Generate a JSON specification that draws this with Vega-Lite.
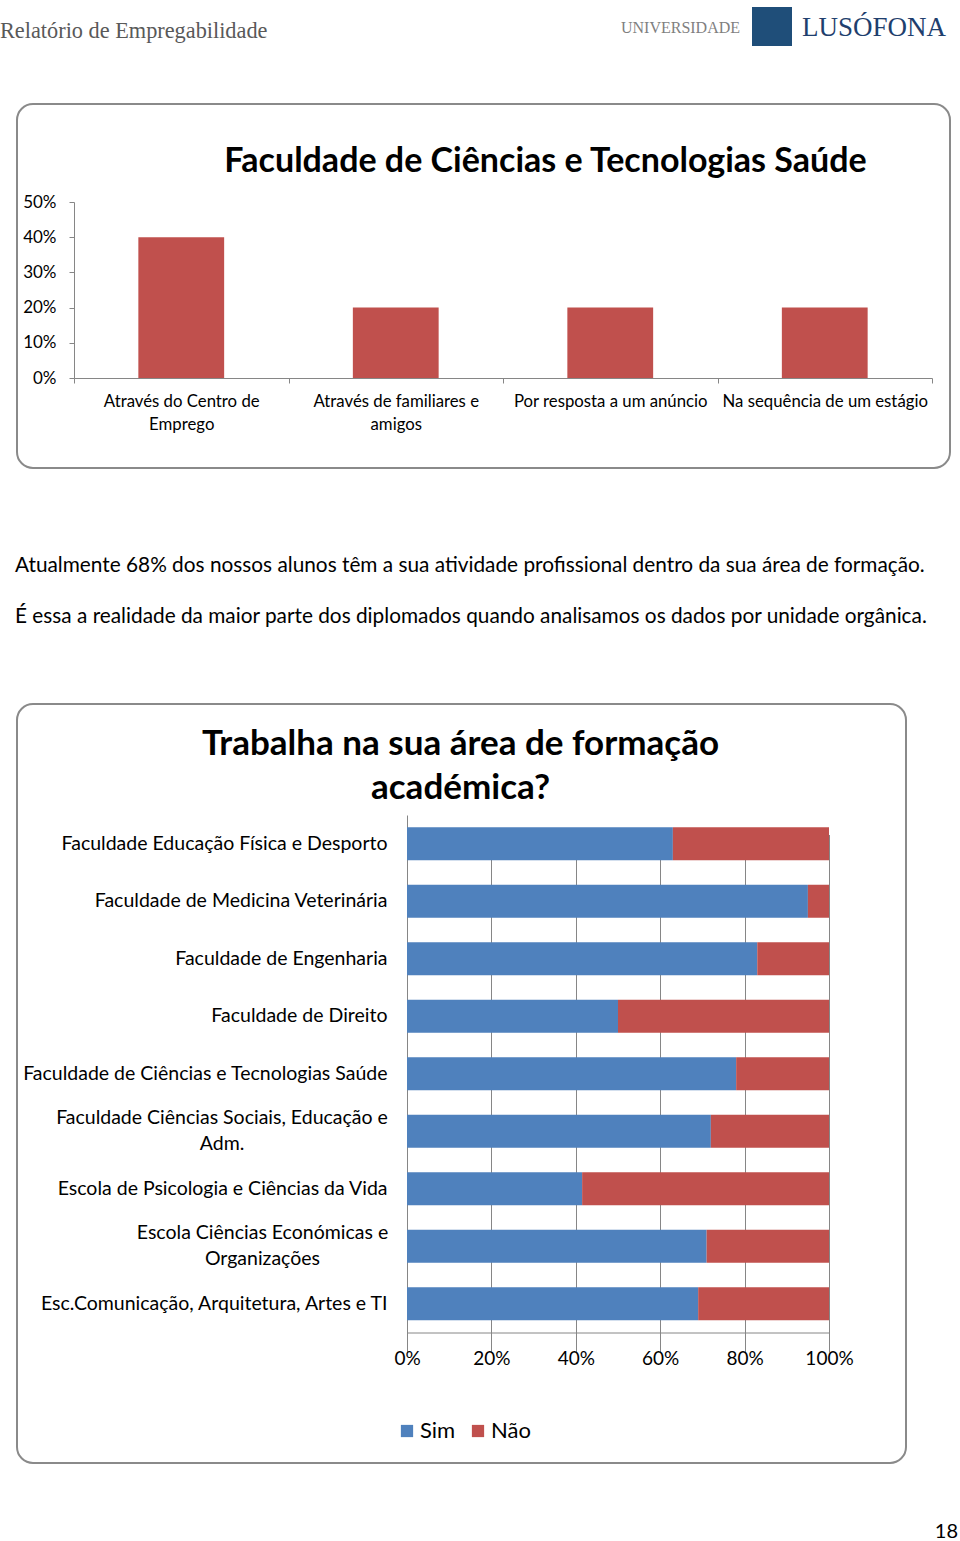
{
  "$schema": "https://vega.github.io/schema/vega-lite/v6.json",
  "background": "white",
  "padding": 0,
  "spacing": 0,
  "resolve": {"scale": {"color": "independent", "size": "independent"}},
  "config": {
    "view": {"stroke": null},
    "font": "Lato",
    "axis": {"labelFont": "Lato", "labelColor": "#000000", "domainColor": "#868686", "tickColor": "#868686", "gridColor": "#868686"}
  },
  "vconcat": [
    {
      "width": 943,
      "height": 55,
      "title": {"text": "Relatório de Empregabilidade", "anchor": "start", "frame": "group", "dx": -17, "offset": -42, "font": "Liberation Serif", "fontSize": 22.3, "fontWeight": "normal", "color": "#595959"},
      "layer": [
        {
          "data": {"values": [{"part": "logo"}]},
          "mark": {"type": "rect", "color": "#1f4e79"},
          "encoding": {
            "x": {"field": "part", "type": "nominal", "scale": {"range": [735, 775], "paddingInner": 0, "paddingOuter": 0}, "axis": null},
            "y": {"field": "part", "type": "nominal", "scale": {"range": [7, 46], "paddingInner": 0, "paddingOuter": 0}, "axis": null}
          }
        },
        {
          "data": {"values": [{"w": "UNIVERSIDADE"}, {"w": "LUSÓFONA"}]},
          "mark": {"type": "text", "font": "Liberation Serif", "baseline": "middle", "align": "center"},
          "encoding": {
            "x": {"field": "w", "type": "nominal", "sort": null, "scale": {"type": "point", "range": [663.5, 857], "padding": 0}, "axis": null},
            "text": {"field": "w"},
            "size": {"field": "w", "type": "nominal", "sort": null, "scale": {"domain": ["UNIVERSIDADE", "LUSÓFONA"], "range": [16, 27]}, "legend": null},
            "color": {"field": "w", "type": "nominal", "scale": {"domain": ["UNIVERSIDADE", "LUSÓFONA"], "range": ["#7f7f7f", "#1f3f6e"]}, "legend": null}
          }
        }
      ],
      "resolve": {"scale": {"x": "independent", "y": "independent"}}
    },
    {"width": 10, "height": 48, "data": {"values": []}, "mark": "point"},
    {
      "width": 933,
      "height": 364,
      "view": {"stroke": "#8a8a8a", "strokeWidth": 2, "cornerRadius": 16},
      "title": {"text": "Faculdade de Ciências e Tecnologias Saúde", "anchor": "middle", "frame": "group", "dx": 62, "offset": -75, "fontSize": 34, "font": "Lato", "fontWeight": "bold", "color": "#000000"},
      "data": {"values": [
        {"via": "Através do Centro de Emprego", "pct": 0.4},
        {"via": "Através de familiares e amigos", "pct": 0.2},
        {"via": "Por resposta a um anúncio", "pct": 0.2},
        {"via": "Na sequência de um estágio", "pct": 0.2}
      ]},
      "mark": {"type": "bar", "color": "#c0504d", "width": {"band": 0.4}},
      "encoding": {
        "x": {"field": "via", "type": "nominal", "sort": null,
          "scale": {"range": [57, 915], "paddingInner": 0, "paddingOuter": 0},
          "axis": {"orient": "bottom", "offset": -90, "title": null, "labelAngle": 0,
            "labelExpr": "datum.label == 'Através do Centro de Emprego' ? ['Através do Centro de', 'Emprego'] : datum.label == 'Através de familiares e amigos' ? ['Através de familiares e', 'amigos'] : datum.label",
            "labelFontSize": 16.75, "labelLineHeight": 23, "tickBand": "extent", "tickSize": 5, "labelPadding": 10, "labelOverlap": false, "labelBound": false, "labelLimit": 0}},
        "y": {"field": "pct", "type": "quantitative",
          "scale": {"domain": [0, 0.5], "range": [274, 98], "nice": false},
          "axis": {"orient": "left", "offset": -57, "title": null, "format": ".0%", "values": [0, 0.1, 0.2, 0.3, 0.4, 0.5], "grid": false, "tickSize": 5, "labelPadding": 13, "labelFontSize": 17}}
      }
    },
    {
      "width": 943,
      "height": 87,
      "title": {"text": "Atualmente 68% dos nossos alunos têm a sua atividade profissional dentro da sua área de formação.",
        "subtitle": "É essa a realidade da maior parte dos diplomados quando analisamos os dados por unidade orgânica.",
        "orient": "bottom", "anchor": "start", "frame": "group", "dx": -2, "offset": 0,
        "fontSize": 20.8, "font": "Lato", "fontWeight": "normal", "color": "#000000",
        "subtitleFontSize": 20.8, "subtitleFont": "Lato", "subtitleColor": "#000000", "subtitlePadding": 30},
      "data": {"values": []},
      "mark": "point"
    },
    {"width": 10, "height": 76, "data": {"values": []}, "mark": "point"},
    {
      "width": 889,
      "height": 759,
      "view": {"stroke": "#8a8a8a", "strokeWidth": 2, "cornerRadius": 16},
      "title": {"text": ["Trabalha  na sua área de formação", "académica?"], "anchor": "middle", "frame": "group", "dx": -1, "offset": -102, "fontSize": 35, "lineHeight": 44, "font": "Lato", "fontWeight": "bold", "color": "#000000"},
      "data": {"values": [
        {"fac": "Faculdade Educação Física e Desporto", "resp": "Sim", "pct": 0.63},
        {"fac": "Faculdade Educação Física e Desporto", "resp": "Não", "pct": 0.37},
        {"fac": "Faculdade de Medicina Veterinária", "resp": "Sim", "pct": 0.95},
        {"fac": "Faculdade de Medicina Veterinária", "resp": "Não", "pct": 0.05},
        {"fac": "Faculdade de Engenharia", "resp": "Sim", "pct": 0.83},
        {"fac": "Faculdade de Engenharia", "resp": "Não", "pct": 0.17},
        {"fac": "Faculdade de Direito", "resp": "Sim", "pct": 0.5},
        {"fac": "Faculdade de Direito", "resp": "Não", "pct": 0.5},
        {"fac": "Faculdade de Ciências e Tecnologias Saúde", "resp": "Sim", "pct": 0.78},
        {"fac": "Faculdade de Ciências e Tecnologias Saúde", "resp": "Não", "pct": 0.22},
        {"fac": "Faculdade Ciências Sociais, Educação e Adm.", "resp": "Sim", "pct": 0.72},
        {"fac": "Faculdade Ciências Sociais, Educação e Adm.", "resp": "Não", "pct": 0.28},
        {"fac": "Escola de Psicologia e Ciências da Vida", "resp": "Sim", "pct": 0.415},
        {"fac": "Escola de Psicologia e Ciências da Vida", "resp": "Não", "pct": 0.585},
        {"fac": "Escola Ciências Económicas e Organizações", "resp": "Sim", "pct": 0.71},
        {"fac": "Escola Ciências Económicas e Organizações", "resp": "Não", "pct": 0.29},
        {"fac": "Esc.Comunicação, Arquitetura, Artes e TI", "resp": "Sim", "pct": 0.69},
        {"fac": "Esc.Comunicação, Arquitetura, Artes e TI", "resp": "Não", "pct": 0.31}
      ]},
      "mark": {"type": "bar"},
      "encoding": {
        "y": {"field": "fac", "type": "nominal", "sort": null,
          "scale": {"range": [111, 628.5], "paddingInner": 0.426, "paddingOuter": 0.213},
          "axis": {"orient": "left", "offset": -390, "title": null, "ticks": false, "labelFontSize": 19.5, "labelLimit": 0, "labelLineHeight": 26,
            "labelPadding": {"condition": [
              {"test": "datum.value == 'Faculdade Ciências Sociais, Educação e Adm.'", "value": 185.5},
              {"test": "datum.value == 'Escola Ciências Económicas e Organizações'", "value": 145}
            ], "value": 20},
            "labelAlign": {"condition": {"test": "datum.value == 'Faculdade Ciências Sociais, Educação e Adm.' || datum.value == 'Escola Ciências Económicas e Organizações'", "value": "center"}, "value": "right"},
            "labelOffset": {"condition": {"test": "datum.value == 'Faculdade Ciências Sociais, Educação e Adm.' || datum.value == 'Escola Ciências Económicas e Organizações'", "value": -13}, "value": 0},
            "labelExpr": "datum.label == 'Faculdade Ciências Sociais, Educação e Adm.' ? ['Faculdade Ciências Sociais, Educação e', 'Adm.'] : datum.label == 'Escola Ciências Económicas e Organizações' ? ['Escola Ciências Económicas e', 'Organizações'] : datum.label"}},
        "x": {"field": "pct", "type": "quantitative", "stack": "zero",
          "scale": {"domain": [0, 1], "range": [390, 812], "nice": false},
          "axis": {"orient": "bottom", "offset": -130.5, "title": null, "format": ".0%", "values": [0, 0.2, 0.4, 0.6, 0.8, 1], "grid": true, "ticks": false, "labelFlush": false, "labelPadding": 17, "labelFontSize": 19}},
        "color": {"field": "resp", "type": "nominal",
          "scale": {"domain": ["Sim", "Não"], "range": ["#4f81bd", "#c0504d"]},
          "legend": {"orient": "none", "legendX": 379, "legendY": 716, "direction": "horizontal", "title": null, "symbolType": "square", "symbolSize": 150, "labelFontSize": 22, "labelFont": "Lato", "labelColor": "#000000", "padding": 0, "columnPadding": 11, "labelOffset": 2, "symbolStrokeWidth": 0}},
        "order": {"field": "resp", "sort": "descending"}
      }
    },
    {
      "width": 941,
      "height": 58,
      "title": {"text": "18", "orient": "bottom", "anchor": "end", "frame": "group", "offset": 0, "fontSize": 20, "font": "Lato", "fontWeight": "normal", "color": "#000000"},
      "data": {"values": []},
      "mark": "point"
    }
  ]
}
